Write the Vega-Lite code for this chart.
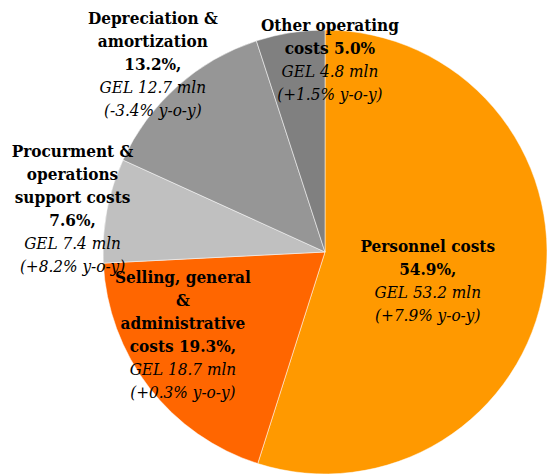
{
  "$schema": "https://vega.github.io/schema/vega-lite/v6.json",
  "width": 444,
  "height": 444,
  "autosize": "none",
  "padding": {"left": 103, "top": 30, "right": 0, "bottom": 0},
  "background": "white",
  "config": {"view": {"stroke": null}, "text": {"font": "DejaVu Serif Condensed, DejaVu Serif", "fontSize": 17, "lineHeight": 23, "baseline": "alphabetic", "align": "center", "color": "black"}},
  "data": {
    "values": [
      {"idx": 1, "cat": "Personnel", "value": 54.9, "bold": ["Personnel costs", "54.9%,"], "italic": ["GEL 53.2 mln", "(+7.9%  y-o-y)"]},
      {"idx": 2, "cat": "Selling", "value": 19.3, "bold": ["Selling, general", "&", "administrative", "costs 19.3%,"], "italic": ["GEL 18.7 mln", "(+0.3% y-o-y)"]},
      {"idx": 3, "cat": "Procurement", "value": 7.6, "bold": ["Procurment &", "operations", "support costs", "7.6%,"], "italic": ["GEL 7.4 mln", "(+8.2% y-o-y)"]},
      {"idx": 4, "cat": "Depreciation", "value": 13.2, "bold": ["Depreciation &", "amortization", "13.2%,"], "italic": ["GEL 12.7 mln", "(-3.4% y-o-y)"]},
      {"idx": 5, "cat": "Other", "value": 5.0, "bold": ["Other operating", "costs 5.0%"], "italic": ["GEL 4.8 mln", "(+1.5% y-o-y)"]}
    ]
  },
  "encoding": {
    "theta": {"field": "value", "type": "quantitative", "stack": true},
    "order": {"field": "idx", "type": "quantitative"}
  },
  "layer": [
    {
      "mark": {"type": "arc", "radius": 222, "stroke": "white", "strokeWidth": 0.5},
      "encoding": {
        "color": {
          "field": "cat", "type": "nominal", "legend": null,
          "scale": {
            "domain": ["Personnel", "Selling", "Procurement", "Depreciation", "Other"],
            "range": ["#FF9900", "#FF6600", "#C0C0C0", "#969696", "#808080"]
          }
        }
      }
    },
    {
      "mark": {"type": "text", "radius": 106, "dx": -2, "dy": -16, "fontWeight": "bold"},
      "encoding": {"detail": {"field": "cat"}, "text": {"condition": {"test": "datum.cat === 'Personnel'", "field": "bold"}, "value": ""}}
    },
    {
      "mark": {"type": "text", "radius": 106, "dx": -2, "dy": 30, "fontStyle": "italic"},
      "encoding": {"detail": {"field": "cat"}, "text": {"condition": {"test": "datum.cat === 'Personnel'", "field": "italic"}, "value": ""}}
    },
    {
      "mark": {"type": "text", "radius": 163, "dx": -13, "dy": -68, "fontWeight": "bold"},
      "encoding": {"detail": {"field": "cat"}, "text": {"condition": {"test": "datum.cat === 'Selling'", "field": "bold"}, "value": ""}}
    },
    {
      "mark": {"type": "text", "radius": 163, "dx": -13, "dy": 24, "fontStyle": "italic"},
      "encoding": {"detail": {"field": "cat"}, "text": {"condition": {"test": "datum.cat === 'Selling'", "field": "italic"}, "value": ""}}
    },
    {
      "mark": {"type": "text", "radius": 256, "dx": -1, "dy": -47, "fontWeight": "bold"},
      "encoding": {"detail": {"field": "cat"}, "text": {"condition": {"test": "datum.cat === 'Procurement'", "field": "bold"}, "value": ""}}
    },
    {
      "mark": {"type": "text", "radius": 256, "dx": -1, "dy": 45, "fontStyle": "italic"},
      "encoding": {"detail": {"field": "cat"}, "text": {"condition": {"test": "datum.cat === 'Procurement'", "field": "italic"}, "value": ""}}
    },
    {
      "mark": {"type": "text", "radius": 254, "dx": -3, "dy": -38.5, "fontWeight": "bold"},
      "encoding": {"detail": {"field": "cat"}, "text": {"condition": {"test": "datum.cat === 'Depreciation'", "field": "bold"}, "value": ""}}
    },
    {
      "mark": {"type": "text", "radius": 254, "dx": -3, "dy": 30.5, "fontStyle": "italic"},
      "encoding": {"detail": {"field": "cat"}, "text": {"condition": {"test": "datum.cat === 'Depreciation'", "field": "italic"}, "value": ""}}
    },
    {
      "mark": {"type": "text", "radius": 189, "dx": 34.5, "dy": -34, "fontWeight": "bold"},
      "encoding": {"detail": {"field": "cat"}, "text": {"condition": {"test": "datum.cat === 'Other'", "field": "bold"}, "value": ""}}
    },
    {
      "mark": {"type": "text", "radius": 189, "dx": 34.5, "dy": 12, "fontStyle": "italic"},
      "encoding": {"detail": {"field": "cat"}, "text": {"condition": {"test": "datum.cat === 'Other'", "field": "italic"}, "value": ""}}
    }
  ]
}
